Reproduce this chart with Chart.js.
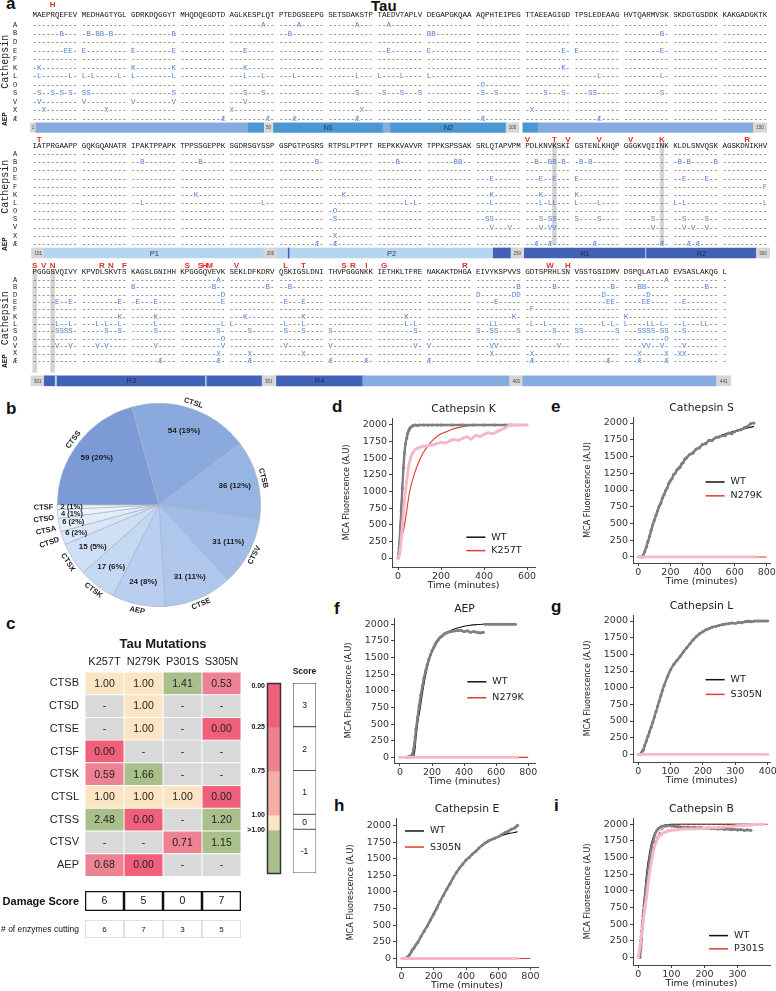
<!DOCTYPE html>
<html><head><meta charset="utf-8"><title>Tau cleavage by cathepsins</title>
<script src="https://cdn.jsdelivr.net/npm/chart.js@4.4.1/dist/chart.umd.min.js"></script>
<style>
html,body{margin:0;padding:0;background:#fff}
body{width:776px;height:991px;position:relative;overflow:hidden}
canvas{position:absolute}
.pl{position:absolute;font:bold 17px "Liberation Sans",Arial,sans-serif;line-height:17px;color:#111;margin:0}
</style></head><body>
<div class="pl" style="left:6px;top:-5px">a</div>
<div class="pl" style="left:6px;top:400px">b</div>
<div class="pl" style="left:6px;top:615px">c</div>
<div class="pl" style="left:332px;top:398px">d</div>
<div class="pl" style="left:551px;top:398px">e</div>
<div class="pl" style="left:334px;top:600px">f</div>
<div class="pl" style="left:551px;top:598px">g</div>
<div class="pl" style="left:334px;top:797px">h</div>
<div class="pl" style="left:554px;top:797px">i</div>
<div class="pl" style="left:371px;top:-3px;font-size:15px">Tau</div>
<script>
// ================= DATA =================
// Panel a: tau sequence (441 aa, C291A/C322A) in blocks of ten
const tauBlocks = ["MAEPRQEFEV","MEDHAGTYGL","GDRKDQGGYT","MHQDQEGDTD","AGLKESPLQT","PTEDGSEEPG","SETSDAKSTP","TAEDVTAPLV","DEGAPGKQAA","AQPHTEIPEG","TTAEEAGIGD","TPSLEDEAAG","HVTQARMVSK","SKDGTGSDDK","KAKGADGKTK",
"IATPRGAAPP","GQKGQANATR","IPAKTPPAPK","TPPSSGEPPK","SGDRSGYSSP","GSPGTPGSRS","RTPSLPTPPT","REPKKVAVVR","TPPKSPSSAK","SRLQTAPVPM","PDLKNVKSKI","GSTENLKHQP","GGGKVQIINK","KLDLSNVQSK","AGSKDNIKHV",
"PGGGSVQIVY","KPVDLSKVTS","KAGSLGNIHH","KPGGGQVEVK","SEKLDFKDRV","QSKIGSLDNI","THVPGGGNKK","IETHKLTFRE","NAKAKTDHGA","EIVYKSPVVS","GDTSPRHLSN","VSSTGSIDMV","DSPQLATLAD","EVSASLAKQG","L"];
const enzymeOrderMain = ['A','B','D','E','F','K','L','O','S','V','X','Æ'];
const enzymeOrderRow3 = ['A','B','D','E','F','K','L','S','O','V','X','Æ'];
// cleavage sites (residue numbers) per protease
const cutsA = [48,55,67,73,339,430];
const cutsB = [7,12,14,15,17,30,53,81,82,129,173,185,209,225,237,238,253,256,257,259,262,264,282,284,290,321,338,349,353,400,407,419,424,425,438];
const cutsD = [340,391,399,400,417,426];
const cutsE = [8,9,11,21,30,44,73,81,109,111,129,244,254,257,261,283,288,306,309,319,322,326,340,352,356,395,418,419,425,426,433];
const cutsF = [300,402];
const cutsK = [2,21,30,44,109,184,214,244,254,261,319,326,344,356,377,399,421];
const cutsL = [2,9,11,13,19,21,30,44,48,54,67,71,76,81,116,129,173,198,227,229,244,254,256,257,261,266,281,283,300,306,309,314,316,319,326,340,341,352,356,377,379,394,395,402,405,417,419,421,426,427,429,433,437,438];
const cutsO = [92,212,340,430];
const cutsS = [2,5,7,9,11,12,30,44,48,67,72,76,80,92,95,105,109,114,115,129,212,243,244,254,256,257,261,266,277,283,288,306,307,308,309,316,319,326,339,345,352,356,361,379,391,394,395,400,407,411,412,420,424,425,426,427,429,430,433];
const cutsV = [2,11,21,30,44,244,248,254,256,257,277,283,285,288,306,309,314,316,326,340,352,361,379,381,394,395,408,425,426,429,433];
const cutsX = [3,16,41,68,102,212,339,345,356,394,402,424,430,432,433];
const cutsAEP = [40,49,54,67,92,116,209,212,253,256,265,279,284,286,327,339,345,361,369,381,402,418,424,430];
// disease mutations shown above the sequence
const mutationSites = [5,152,251,257,260,266,272,279,296,301,303,305,315,317,320,332,335,336,337,342,352,356,364,366,369,372,389,406,410];
const mutationAA = ['H','T','V','T','V','V','V','K','R','S','V','N','R','N','F','S','S','H','M','V','L','T','S','R','I','G','R','W','H'];
// domain map rows: [start residue, end residue, kind, label]
const domainsRow1 = [[0.5,1.7,'num','1'],[1.7,44.8,'region',''],[44.8,47.9,'N',''],[48.1,49.7,'num','50'],[49.9,72.1,'N','N1'],[72.1,73.7,'region',''],[73.7,97.1,'N','N2'],[97.1,99.7,'num','100'],[100.5,103.6,'N',''],[103.6,147.3,'region',''],[147.3,150,'num','150']];
const domainsRow2 = [[150.8,153.5,'num','151'],[153.5,197.9,'P','P1'],[197.9,200.7,'num','200'],[200.7,202.9,'P',''],[202.9,203.2,'R',''],[203.2,244.5,'P','P2'],[244.5,248.1,'R',''],[248.1,250.6,'num','250'],[250.8,275.4,'R','R1'],[275.4,275.6,'P',''],[275.6,297.9,'R','R2'],[297.9,300.6,'num','300']];
const domainsRow3 = [[300.7,303.4,'num','301'],[303.4,305.6,'R',''],[305.6,306,'P',''],[306,336.1,'R','R3'],[336.1,336.4,'P',''],[336.4,347.6,'R',''],[347.6,350.3,'num','351'],[350.5,368,'R','R4'],[368,397.8,'region',''],[397.8,400.5,'num','400'],[400.5,439.8,'region',''],[439.8,442.7,'num','441']];

// Panel b: pie
const pieLabels = ['CTSS','CTSL','CTSB','CTSV','CTSE','AEP','CTSK','CTSX','CTSD','CTSA','CTSO','CTSF'];
const pieCounts = [59,54,36,31,31,24,17,15,6,6,4,2];
const piePercents = [20,19,12,11,11,8,6,5,2,2,1,1];

// Panel c: heatmap
const mutations = ['K257T','N279K','P301S','S305N'];
const enzymes = ['CTSB','CTSD','CTSE','CTSF','CTSK','CTSL','CTSS','CTSV','AEP'];
const scoresK257T = [1.00,null,null,0.00,0.59,1.00,2.48,null,0.68];
const scoresN279K = [1.00,1.00,1.00,null,1.66,1.00,0.00,null,0.00];
const scoresP301S = [1.41,null,null,null,null,1.00,null,0.71,null];
const scoresS305N = [0.53,null,0.00,null,null,0.00,1.20,1.15,null];
const damageScore = [6,5,0,7];
const enzymesCutting = [6,7,3,5];
const colorbarLabels = ['0.00','0.25','0.75','1.00','>1.00'];
const scoreLevels = [3,2,1,0,-1];

// Panels d-i: MCA fluorescence kinetics
const yTicks = [0,250,500,750,1000,1250,1500,1750,2000];
// d Cathepsin K
const dWtT = [0,5,10,15,20,25,30,35,40,45,50,55,60,70,80,90,100,120,140,160,180,200,250,300,350,400,450,500,530];
const dWtV = [0,150,380,700,1050,1350,1580,1720,1800,1870,1920,1950,1970,1990,2000,1995,2000,2000,1998,2000,2000,2000,2000,2000,2000,2000,2000,2000,2000];
const dWtFitT = [0,5,10,15,20,25,30,40,50,60,80,100,200,300,400,530];
const dWtFitV = [0,200,480,800,1100,1350,1550,1790,1910,1965,1995,2000,2000,2000,2000,2000];
const dMutT = [0,5,10,15,20,25,30,40,50,60,70,80,90,100,120,140,160,180,200,220,240,260,280,300,320,340,360,380,400,420,440,460,480,500,520,540,560,580,600];
const dMutV = [0,30,120,280,480,680,860,1150,1380,1520,1590,1630,1650,1665,1680,1690,1700,1720,1740,1730,1760,1780,1770,1800,1820,1790,1840,1830,1860,1880,1870,1900,1930,1960,2000,2000,2000,2000,2000];
const dMutFitT = [0,10,20,30,40,54,70,85,100,116,140,163,190,225,260,302,350,400,500,600];
const dMutFitV = [0,170,340,490,700,1000,1200,1350,1470,1575,1690,1775,1850,1900,1945,1975,1992,2000,2000,2000];
// e Cathepsin S
const eWtT = [20,30,40,50,60,70,80,90,100,110,120,130,140,150,160,170,180,190,200,210,220,230,240,250,260,270,280,290,300,320,340,360,380,400,420,440,460,480,500,520,540,560,580,600,620,640,660,680,700,720];
const eWtV = [0,20,80,150,230,310,400,480,550,620,690,760,800,880,930,990,1030,1100,1140,1170,1230,1250,1300,1320,1340,1390,1410,1460,1480,1530,1550,1610,1630,1680,1690,1740,1740,1780,1790,1810,1810,1850,1840,1870,1890,1900,1930,1950,1990,2000];
const eWtFitT = [20,50,100,150,200,250,300,400,500,600,720];
const eWtFitV = [0,140,540,860,1130,1330,1480,1680,1800,1880,1950];
const eMutT = [0,730];
const eMutV = [0,0];
const eMutFitT = [0,800];
const eMutFitV = [0,0];
// f AEP
const fWtT = [40,50,60,70,75,80,85,90,95,100,110,120,130,140,150,160,170,180,190,200,210,220,230,240,250,260,270,280,290,300,320,340,360,380,400,420,440,460,480,500,520,525,530,560,580,600,620,640,660,680,700,720];
const fWtV = [0,5,10,20,35,60,120,200,300,420,600,780,930,1070,1190,1300,1390,1470,1540,1600,1650,1700,1740,1770,1800,1820,1840,1860,1870,1880,1890,1900,1905,1910,1890,1900,1880,1890,1880,1870,1880,null,2000,2000,2000,2000,2000,2000,2000,2000,2000,2000];
const fWtFitT = [0,85,90,95,100,110,125,140,166,190,208,240,270,310,353,400,457,520,600,700];
const fWtFitV = [0,0,60,150,280,500,720,960,1300,1520,1620,1760,1840,1900,1940,1970,1990,2000,2000,2000];
const fMutT = [0,730];
const fMutV = [0,0];
const fMutFitT = [0,800];
const fMutFitV = [0,0];
// g Cathepsin L
const gWtT = [5,10,15,20,25,30,35,40,45,50,55,60,65,70,75,80,90,100,110,120,130,140,150,160,170,180,190,200,210,220,230,240,250,260,270,280,290,300,310,320,330,340,350,360,370,380,390,400];
const gWtV = [0,10,60,130,200,270,340,410,480,560,640,720,800,880,960,1030,1160,1270,1350,1410,1470,1540,1600,1660,1720,1770,1810,1840,1870,1890,1910,1920,1935,1945,1955,1960,1970,1965,1980,1975,1990,2000,1990,2000,2000,2000,2000,2000];
const gWtFitT = [5,20,40,60,80,100,130,160,200,250,300,350,400];
const gWtFitV = [0,130,410,720,1030,1270,1470,1660,1840,1935,1970,1990,2000];
const gMutT = [0,400];
const gMutV = [0,0];
const gMutFitT = [0,400];
const gMutFitV = [0,0];
// h Cathepsin E
const hWtT = [20,30,40,50,60,70,80,90,100,120,140,160,180,200,220,240,260,280,300,320,340,360,380,400,420,440,460,480,500,520,540,560,580,600,620,640,660,680,700,710,720];
const hWtV = [0,10,30,60,100,140,170,210,240,330,410,490,580,670,760,860,950,1040,1120,1210,1290,1360,1420,1480,1520,1570,1610,1660,1700,1740,1770,1790,1810,1830,1860,1890,1910,1940,1960,1980,2000];
const hWtFitT = [20,60,100,150,200,250,300,350,400,450,500,550,600,650,700,720];
const hWtFitV = [0,90,250,460,690,920,1140,1330,1480,1600,1700,1770,1830,1870,1895,1905];
const hMutT = [0,720];
const hMutV = [0,0];
const hMutFitT = [0,800];
const hMutFitV = [0,0];
// i Cathepsin B
const iWtT = [5,8,10,13,15,18,20,23,25,28,30,35,40,45,50,55,60,65,70,80,90,100,110,120,130,140,150,160,170,180,190,200,210,220,230,240,250,260,270,280,290,300,310,320,330,340];
const iWtV = [0,150,280,500,620,780,860,1000,1100,1230,1320,1500,1640,1750,1840,1900,1930,1950,1965,1975,1980,1975,1970,1965,1960,1955,1960,1950,1955,1945,1950,1940,1945,1935,1940,1930,1935,1925,1930,1920,1925,1915,1920,1910,1915,1910];
const iWtFitT = [3,10,15,20,25,30,40,50,60,70,80,100,200,340];
const iWtFitV = [0,350,700,1000,1260,1450,1720,1870,1940,1975,1990,2000,2000,2000];
const iMutT = [0,5,10,15,20,25,27,30,35,40,45,50,55,60,70,80,90,100,120,140,160,180,200,220,240,260,280,300,320,340,360,378];
const iMutV = [0,150,350,550,740,900,1000,1120,1300,1440,1580,1680,1750,1800,1850,1880,1900,1910,1920,1930,1930,1935,1940,1950,1950,1960,1970,1980,1985,1990,2000,2000];
const iMutFitT = [0,5,10,15,20,25,30,40,50,60,70,80,100,120,150,200,300,400];
const iMutFitV = [0,250,520,780,1000,1180,1340,1580,1740,1840,1910,1950,1985,1995,2000,2000,2000,2000];

// ================= RENDERING =================
const NARROW = '"Liberation Sans Narrow","Liberation Sans",Arial,sans-serif';
const SANS = '"Liberation Sans",Arial,sans-serif';
const DEJAVU = '"DejaVu Sans",sans-serif';
const MONO = '"Liberation Mono","DejaVu Sans Mono",monospace';
Chart.defaults.font.family = NARROW;
Chart.defaults.animation = false;
Chart.defaults.plugins.legend.display = false;
Chart.defaults.plugins.tooltip.enabled = false;

const tauSeq = tauBlocks.join('');
const cutSites = {A:cutsA,B:cutsB,D:cutsD,E:cutsE,F:cutsF,K:cutsK,L:cutsL,O:cutsO,S:cutsS,V:cutsV,X:cutsX,'Æ':cutsAEP};
const highlightSites = mutations.map(m => parseInt(m.slice(1, -1), 10));
const colIndex = i => i + Math.floor(i / 10);

function makeCanvas(left, top, w, h) {
  const c = document.createElement('canvas');
  c.width = w; c.height = h;
  c.style.left = left + 'px'; c.style.top = top + 'px';
  c.style.width = w + 'px'; c.style.height = h + 'px';
  document.body.appendChild(c);
  return c;
}
function titlePlugin(text, font, dy, color) {
  return {id: 'ttl', afterDraw(chart) {
    const ca = chart.chartArea, ctx = chart.ctx;
    ctx.save(); ctx.font = font; ctx.fillStyle = color || '#1a1a1a';
    ctx.textAlign = 'center'; ctx.textBaseline = 'middle';
    ctx.fillText(text, (ca.left + ca.right) / 2, ca.top - dy);
    ctx.restore();
  }};
}
function cellTextPlugin(font, color) {
  return {id: 'cellText', afterDatasetsDraw(chart) {
    const ctx = chart.ctx; ctx.save();
    ctx.font = font; ctx.fillStyle = color; ctx.textAlign = 'center'; ctx.textBaseline = 'middle';
    chart.data.datasets.forEach((ds, di) => {
      if (!ds.cellText) return;
      chart.getDatasetMeta(di).data.forEach((el, j) => {
        const p = el.getProps(['x', 'y', 'base'], true);
        let cx, cy;
        if (chart.options.indexAxis === 'y') { cx = (p.x + p.base) / 2; cy = p.y; }
        else { cx = p.x; cy = (p.y + p.base) / 2; }
        ctx.fillText(ds.cellText[j], cx, cy + 0.5);
      });
    });
    ctx.restore();
  }};
}

// ---------- Panel a ----------
const alignBlocks = [
  {start:1, end:150, top:0, h:135, ymin:-2.93, ymax:12.87, seqV:-1.17, mutV:-2.34, barV:12.0, bar:9.5, hiTop:-1.6, hiBottom:11.4, cathV:4.3, order:enzymeOrderMain, domains:domainsRow1},
  {start:151, end:300, top:133, h:128, ymin:-2.57, ymax:13.08, seqV:-0.98, mutV:-1.71, barV:12.1, bar:10, hiTop:-1.47, hiBottom:11.1, cathV:4.0, order:enzymeOrderMain, domains:domainsRow2},
  {start:301, end:441, top:260, h:130, ymin:-2.72, ymax:14.95, seqV:-1.09, mutV:-1.97, barV:13.7, bar:10, hiTop:-1.36, hiBottom:12.6, cathV:5.2, order:enzymeOrderRow3, domains:domainsRow3}
];
const domainColor = {num:'#d6d6d6', region:'#87abe0', N:'#4b97d4', P:'#b6d5f0', R:'#4262b8'};

function alignPlugin(b) {
  return {id: 'align',
    beforeDatasetsDraw(chart) {
      const xs = chart.scales.x, ys = chart.scales.y, ctx = chart.ctx;
      ctx.save(); ctx.fillStyle = 'rgba(150,150,150,0.42)';
      highlightSites.forEach(r => {
        if (r < b.start || r > b.end) return;
        const ci = colIndex(r - b.start);
        const x1 = xs.getPixelForValue(ci), x2 = xs.getPixelForValue(ci + 1);
        const y1 = ys.getPixelForValue(b.hiTop), y2 = ys.getPixelForValue(b.hiBottom);
        ctx.fillRect(x1, y1, x2 - x1, y2 - y1);
      });
      ctx.restore();
    },
    afterDatasetsDraw(chart) {
      const xs = chart.scales.x, ys = chart.scales.y, ctx = chart.ctx;
      const n = b.end - b.start + 1;
      ctx.save(); ctx.textBaseline = 'middle'; ctx.textAlign = 'left';
      ctx.font = '7.47px ' + MONO;
      const ySeq = ys.getPixelForValue(b.seqV);
      ctx.fillStyle = '#111';
      for (let i = 0; i < n; i++) ctx.fillText(tauSeq[b.start - 1 + i], xs.getPixelForValue(colIndex(i)), ySeq);
      b.order.forEach((enz, k) => {
        const y = ys.getPixelForValue(k), cuts = cutSites[enz];
        for (let i = 0; i < n; i++) {
          const cut = cuts.indexOf(b.start + i) >= 0;
          ctx.fillStyle = cut ? '#4f80d2' : '#4a4a4a';
          ctx.fillText(cut ? enz : '-', xs.getPixelForValue(colIndex(i)), y);
        }
      });
      ctx.textAlign = 'center'; ctx.fillStyle = '#222'; ctx.font = '7px ' + MONO;
      b.order.forEach((enz, k) => ctx.fillText(enz, 15, ys.getPixelForValue(k)));
      ctx.save(); ctx.translate(5.5, ys.getPixelForValue(b.cathV)); ctx.rotate(-Math.PI / 2);
      ctx.font = '10px ' + MONO; ctx.fillText('Cathepsin', 0, 0); ctx.restore();
      ctx.save(); ctx.translate(5.5, ys.getPixelForValue(b.order.length - 1)); ctx.rotate(-Math.PI / 2);
      ctx.font = 'bold 7.5px ' + MONO; ctx.fillText('AEP', 0, 0); ctx.restore();
      ctx.font = 'bold 8px ' + SANS; ctx.fillStyle = '#e2302a';
      mutationSites.forEach((r, j) => {
        if (r < b.start || r > b.end) return;
        const ci = colIndex(r - b.start);
        ctx.fillText(mutationAA[j], (xs.getPixelForValue(ci) + xs.getPixelForValue(ci + 1)) / 2, ys.getPixelForValue(b.mutV));
      });
      chart.getDatasetMeta(0).data.forEach((el, j) => {
        const d = b.domains[j]; if (!d[3]) return;
        const p = el.getProps(['x', 'y', 'base'], true);
        if (d[2] === 'num') { ctx.font = '4.5px ' + SANS; ctx.fillStyle = '#444'; }
        else { ctx.font = '7.5px ' + SANS; ctx.fillStyle = d[2] === 'P' ? '#2b3b55' : '#1d2a44'; }
        ctx.fillText(d[3], (p.x + p.base) / 2, p.y + 0.5);
      });
      ctx.restore();
    }};
}
function alignmentChart(b) {
  const cv = makeCanvas(0, b.top, 776, b.h);
  const cw = 4.48, seqLeft = 32.5, areaL = 30, areaR = 770;
  new Chart(cv, {
    type: 'bar',
    data: {datasets: [{
      data: b.domains.map(d => ({x: [(d[0] - b.start) * 1.1, (d[1] - b.start) * 1.1], y: b.barV})),
      backgroundColor: b.domains.map(d => domainColor[d[2]]),
      borderWidth: 0, barThickness: b.bar
    }]},
    options: {indexAxis: 'y', responsive: false, devicePixelRatio: 1,
      layout: {padding: {left: areaL, right: 776 - areaR, top: 0, bottom: 0}},
      scales: {
        x: {type: 'linear', display: false, min: (areaL - seqLeft) / cw, max: (areaR - seqLeft) / cw},
        y: {type: 'linear', display: false, reverse: true, offset: false, min: b.ymin, max: b.ymax}
      }},
    plugins: [alignPlugin(b)]
  });
}
alignBlocks.forEach(alignmentChart);

// ---------- Panel b ----------
function pieLabelPlugin() {
  return {id: 'pieLabels', afterDatasetsDraw(chart) {
    const ctx = chart.ctx, arcs = chart.getDatasetMeta(0).data;
    const c0 = arcs[0].getProps(['x', 'y', 'outerRadius'], true);
    const cx = c0.x, cy = c0.y, R = c0.outerRadius;
    const mids = arcs.map(a => { const p = a.getProps(['startAngle', 'endAngle'], true); return (p.startAngle + p.endAngle) / 2; });
    ctx.save(); ctx.fillStyle = '#1a1a1a'; ctx.textBaseline = 'middle';
    mids.forEach((a, i) => {
      if (pieCounts[i] < 10) return;
      ctx.font = 'bold 8px ' + NARROW; ctx.textAlign = 'center';
      ctx.fillText(pieCounts[i] + ' (' + piePercents[i] + '%)', cx + 0.77 * R * Math.cos(a), cy + 0.77 * R * Math.sin(a));
      const ro = R + 6;
      ctx.save(); ctx.translate(cx + ro * Math.cos(a), cy + ro * Math.sin(a));
      ctx.rotate(Math.sin(a) > 0 ? a - Math.PI / 2 : a + Math.PI / 2);
      ctx.font = 'bold 7.5px ' + NARROW; ctx.fillText(pieLabels[i], 0, 0); ctx.restore();
    });
    const small = mids.map((a, i) => i).filter(i => pieCounts[i] < 10).sort((p, q) => Math.sin(mids[p]) - Math.sin(mids[q]));
    let lastIn = -1e9, lastOut = -1e9;
    small.forEach(i => {
      const a = mids[i];
      let yi = Math.max(cy + 0.86 * R * Math.sin(a), lastIn + 7); lastIn = yi;
      ctx.font = 'bold 7.5px ' + NARROW; ctx.textAlign = 'center';
      ctx.fillText(pieCounts[i] + ' (' + piePercents[i] + '%)', cx + 0.86 * R * Math.cos(a), yi);
      const ro = R + 4;
      let yo = Math.max(cy + ro * Math.sin(a), lastOut + 10.5); lastOut = yo;
      const xo = cx - Math.sqrt(Math.max(ro * ro - (yo - cy) * (yo - cy), 0));
      const ang = Math.atan2(yo - cy, xo - cx);
      ctx.save(); ctx.translate(xo, yo); ctx.rotate(ang - Math.PI); ctx.textAlign = 'right';
      ctx.fillText(pieLabels[i], 0, 0); ctx.restore();
    });
    ctx.restore();
  }};
}
(function pieChart() {
  const cv = makeCanvas(0, 395, 290, 235);
  const pieColors = ['#7c9bd6','#8aaade','#97b5e3','#a1bce6','#afc7ec','#bacff0','#c5d8f2','#cfdff5','#d9e6f8','#e3edfa','#ecf3fc','#f4f8fd'];
  new Chart(cv, {type: 'pie',
    data: {labels: pieLabels, datasets: [{data: pieCounts, backgroundColor: pieColors, borderColor: '#a8b3c6', borderWidth: 0.7}]},
    options: {responsive: false, devicePixelRatio: 1, rotation: -90,
      layout: {padding: {left: 57, right: 29, top: 8, bottom: 23}}},
    plugins: [pieLabelPlugin()]
  });
})();

// ---------- Panel c ----------
function scoreColor(v) {
  if (v === null) return '#d9d9d9';
  if (v > 1) return '#a9c08d';
  if (v === 1) return '#fbe5c4';
  if (v >= 0.75) return '#f5aea6';
  if (v >= 0.25) return '#ec8292';
  return '#f0607a';
}
(function heatmapChart() {
  const cv = makeCanvas(0, 630, 250, 259);
  const cols = [scoresK257T, scoresN279K, scoresP301S, scoresS305N];
  new Chart(cv, {type: 'bar',
    data: {labels: enzymes, datasets: cols.map((col, c) => ({
      data: col.map(() => [c, c + 1]), backgroundColor: col.map(scoreColor),
      borderColor: '#ffffff', borderWidth: 0.8, borderSkipped: false,
      cellText: col.map(v => v === null ? '-' : v.toFixed(2))}))},
    options: {indexAxis: 'y', responsive: false, devicePixelRatio: 1,
      datasets: {bar: {grouped: false, barPercentage: 1, categoryPercentage: 1}},
      layout: {padding: {left: 0, right: 9, top: 0, bottom: 0}},
      scales: {
        x: {type: 'linear', position: 'top', min: 0, max: 4, grid: {display: false, drawTicks: false}, border: {display: false},
          afterBuildTicks: s => { s.ticks = mutations.map((m, i) => ({value: i + 0.5})); },
          ticks: {autoSkip: false, maxRotation: 0, padding: 3, color: '#222', font: {family: NARROW, size: 11}, callback: (v, i) => mutations[i]},
          afterFit: s => { s.height = 42; }},
        y: {type: 'category', grid: {display: false, drawTicks: false}, border: {display: false},
          ticks: {padding: 6, color: '#222', font: {family: NARROW, size: 11}}, afterFit: s => { s.width = 85; }}
      }},
    plugins: [cellTextPlugin('10.5px ' + NARROW, '#222'), titlePlugin('Tau Mutations', 'bold 13px ' + NARROW, 28)]
  });
})();
function summaryRow(top, h, label, values, border, bw, labelFont, textFont) {
  const cv = makeCanvas(0, top, 250, h);
  new Chart(cv, {type: 'bar',
    data: {labels: mutations, datasets: [{
      data: values.map(() => [0, 1]), backgroundColor: '#ffffff', borderColor: border, borderWidth: bw,
      borderSkipped: false, cellText: values.map(v => String(v))}]},
    options: {responsive: false, devicePixelRatio: 1,
      datasets: {bar: {barPercentage: 1, categoryPercentage: 1}},
      layout: {padding: {left: 85, right: 9, top: 1, bottom: 2}},
      scales: {x: {display: false}, y: {type: 'linear', display: false, min: 0, max: 1}}},
    plugins: [cellTextPlugin(textFont, '#111'), {id: 'rowLabel', afterDraw(chart) {
      const ca = chart.chartArea, ctx = chart.ctx;
      ctx.save(); ctx.font = labelFont; ctx.fillStyle = '#111'; ctx.textAlign = 'right'; ctx.textBaseline = 'middle';
      ctx.fillText(label, ca.left - 6, (ca.top + ca.bottom) / 2 + 0.5); ctx.restore();
    }}]
  });
}
summaryRow(890, 23, 'Damage Score', damageScore, '#111', 1.6, 'bold 11px ' + NARROW, '10.5px ' + NARROW);
summaryRow(919, 21, '# of enzymes cutting', enzymesCutting, '#d4d4d4', 1, '8.5px ' + NARROW, '8px ' + NARROW);

const bandSizes = [1, 1, 1, 0.34, 1];
const bandEdges = bandSizes.reduce((acc, s) => { acc.push(acc[acc.length - 1] + s); return acc; }, [0]);
(function colorbarChart() {
  const cv = makeCanvas(236, 676, 46, 205);
  const bandColors = ['#f0607a', '#ee8191', '#f5aea7', '#fbe5c4', '#a9c08d'];
  new Chart(cv, {type: 'bar',
    data: {labels: ['cb'], datasets: bandSizes.map((s, i) => ({data: [[bandEdges[i], bandEdges[i + 1]]], backgroundColor: bandColors[i], borderWidth: 0}))},
    options: {responsive: false, devicePixelRatio: 1,
      datasets: {bar: {grouped: false, barPercentage: 1, categoryPercentage: 1}},
      layout: {padding: {left: 31, right: 1, top: 7, bottom: 7}},
      scales: {x: {display: false}, y: {type: 'linear', display: false, reverse: true, min: 0, max: bandEdges[bandEdges.length - 1]}}},
    plugins: [{id: 'cbFrame', afterDatasetsDraw(chart) {
      const ca = chart.chartArea, ctx = chart.ctx, ys = chart.scales.y;
      ctx.save(); ctx.strokeStyle = '#333'; ctx.lineWidth = 1.5;
      ctx.strokeRect(ca.left + 0.5, ca.top + 0.5, ca.right - ca.left - 1, ca.bottom - ca.top - 1);
      ctx.font = 'bold 7px ' + NARROW; ctx.fillStyle = '#111'; ctx.textAlign = 'right'; ctx.textBaseline = 'middle';
      colorbarLabels.forEach((t, i) => ctx.fillText(t, ca.left - 2, Math.max(ys.getPixelForValue(bandEdges[i]), ca.top + 3)));
      ctx.restore();
    }}]
  });
})();
(function scoreChart() {
  const cv = makeCanvas(288, 660, 32, 220);
  new Chart(cv, {type: 'bar',
    data: {labels: ['Score'], datasets: bandSizes.map((s, i) => ({data: [[bandEdges[i], bandEdges[i + 1]]], backgroundColor: '#ffffff',
      borderColor: i === 0 ? '#222' : '#555', borderWidth: 0.8, borderSkipped: false, cellText: [String(scoreLevels[i])]}))},
    options: {responsive: false, devicePixelRatio: 1,
      datasets: {bar: {grouped: false, barPercentage: 1, categoryPercentage: 1}},
      layout: {padding: {left: 5, right: 4, top: 23, bottom: 7}},
      scales: {x: {display: false}, y: {type: 'linear', display: false, reverse: true, min: 0, max: bandEdges[bandEdges.length - 1]}}},
    plugins: [cellTextPlugin('8.5px ' + NARROW, '#111'), titlePlugin('Score', 'bold 8.5px ' + NARROW, 11)]
  });
})();

// ---------- Panels d-i ----------
const kinetics = [
  {title:'Cathepsin K', mut:'K257T', left:392, right:535, top:418, bottom:567, xmin:-28, xmax:637, ymin:-135, ymax:2105, xTicks:[0,200,400,600], legend:[0.52,0.80,0.89], dash:false,
   wtT:dWtT, wtV:dWtV, wtFitT:dWtFitT, wtFitV:dWtFitV, mutT:dMutT, mutV:dMutV, mutFitT:dMutFitT, mutFitV:dMutFitV},
  {title:'Cathepsin S', mut:'N279K', left:633, right:770, top:417, bottom:563, xmin:-33, xmax:820, ymin:-90, ymax:2090, xTicks:[0,200,400,600,800], legend:[0.53,0.445,0.54], dash:false,
   wtT:eWtT, wtV:eWtV, wtFitT:eWtFitT, wtFitV:eWtFitV, mutT:eMutT, mutV:eMutV, mutFitT:eMutFitT, mutFitV:eMutFitV},
  {title:'AEP', mut:'N279K', left:394, right:535, top:618, bottom:763, xmin:-37, xmax:842, ymin:-85, ymax:2094, xTicks:[0,200,400,600,800], legend:[0.52,0.44,0.55], dash:false,
   wtT:fWtT, wtV:fWtV, wtFitT:fWtFitT, wtFitV:fWtFitV, mutT:fMutT, mutV:fMutV, mutFitT:fMutFitT, mutFitV:fMutFitV},
  {title:'Cathepsin L', mut:'S305N', left:633, right:770, top:615, bottom:762, xmin:-16, xmax:407, ymin:-115, ymax:2090, xTicks:[0,100,200,300,400], legend:[0.53,0.44,0.54], dash:false,
   wtT:gWtT, wtV:gWtV, wtFitT:gWtFitT, wtFitV:gWtFitV, mutT:gMutT, mutV:gMutV, mutFitT:gMutFitT, mutFitV:gMutFitV},
  {title:'Cathepsin E', mut:'S305N', left:396, right:538, top:818, bottom:967, xmin:-35, xmax:847, ymin:-128, ymax:2112, xTicks:[0,200,400,600,800], legend:[0.063,0.087,0.195], dash:false,
   wtT:hWtT, wtV:hWtV, wtFitT:hWtFitT, wtFitV:hWtFitV, mutT:hMutT, mutV:hMutV, mutFitT:hMutFitT, mutFitV:hMutFitV},
  {title:'Cathepsin B', mut:'P301S', left:633, right:770, top:818, bottom:965, xmin:-16, xmax:398, ymin:-116, ymax:2095, xTicks:[0,100,200,300], legend:[0.555,0.80,0.89], dash:true,
   wtT:iWtT, wtV:iWtV, wtFitT:iWtFitT, wtFitV:iWtFitV, mutT:iMutT, mutV:iMutV, mutFitT:iMutFitT, mutFitV:iMutFitV}
];
function lineLegendPlugin(spec) {
  return {id: 'lineLegend', afterDraw(chart) {
    const ca = chart.chartArea, ctx = chart.ctx;
    const x = ca.left + spec[0] * (ca.right - ca.left);
    ctx.save(); ctx.font = '9.5px ' + DEJAVU; ctx.textBaseline = 'middle'; ctx.textAlign = 'left'; ctx.fillStyle = '#222';
    [0, 1].forEach(k => {
      const ds = chart.data.datasets[k];
      const y = ca.top + spec[k + 1] * (ca.bottom - ca.top);
      ctx.strokeStyle = ds.borderColor; ctx.lineWidth = 1.5;
      ctx.beginPath(); ctx.moveTo(x, y); ctx.lineTo(x + 19, y); ctx.stroke();
      ctx.fillText(ds.label, x + 25, y);
    });
    ctx.restore();
  }};
}
function kineticsChart(k) {
  const W = k.right - k.left, H = k.bottom - k.top;
  const cv = makeCanvas(k.left - 50, k.top - 22, W + 62, H + 46);
  const pts = (t, v) => t.map((x, i) => ({x: x, y: v[i]}));
  const axisCommon = {grid: {drawOnChartArea: false, tickLength: 3, color: '#444'}, border: {color: '#444', width: 1}};
  new Chart(cv, {type: 'line',
    data: {datasets: [
      {label: 'WT', data: pts(k.wtFitT, k.wtFitV), borderColor: '#111111', borderWidth: 1.1, pointRadius: 0, order: 4},
      {label: k.mut, data: pts(k.mutFitT, k.mutFitV), borderColor: '#e33b2e', borderWidth: 1.1, pointRadius: 0, borderDash: k.dash ? [3, 2] : [], order: 3},
      {label: 'WT data', data: pts(k.wtT, k.wtV), borderColor: '#7f7f7f', backgroundColor: '#7f7f7f', borderWidth: 2.4, pointRadius: 1.6, pointBorderWidth: 0, order: 2},
      {label: k.mut + ' data', data: pts(k.mutT, k.mutV), borderColor: '#f6b8c9', backgroundColor: '#f6b8c9', borderWidth: 2.8, pointRadius: 1.6, pointBorderWidth: 0, order: 1}
    ]},
    options: {responsive: false, devicePixelRatio: 1,
      layout: {padding: {left: 0, right: 12, top: 22, bottom: 0}},
      elements: {line: {cubicInterpolationMode: 'monotone'}},
      scales: {
        x: Object.assign({type: 'linear', min: k.xmin, max: k.xmax,
          afterBuildTicks: s => { s.ticks = k.xTicks.map(v => ({value: v})); },
          ticks: {padding: 1, color: '#333', font: {family: DEJAVU, size: 9.5}, maxRotation: 0, autoSkip: false, callback: v => String(v)},
          title: {display: true, text: 'Time (minutes)', color: '#222', font: {family: DEJAVU, size: 9.5}, padding: 0},
          afterFit: s => { s.height = 24; }}, axisCommon),
        y: Object.assign({type: 'linear', min: k.ymin, max: k.ymax,
          afterBuildTicks: s => { s.ticks = yTicks.map(v => ({value: v})); },
          ticks: {padding: 2, color: '#333', font: {family: DEJAVU, size: 9.5}, autoSkip: false, callback: v => String(v)},
          title: {display: true, text: 'MCA Fluorescence (A.U)', color: '#222', font: {family: DEJAVU, size: 8}, padding: 0},
          afterFit: s => { s.width = 50; }}, axisCommon)
      }},
    plugins: [titlePlugin(k.title, '10.8px ' + DEJAVU, 9, '#222'), lineLegendPlugin(k.legend)]
  });
}
kinetics.forEach(kineticsChart);
</script></body></html>
